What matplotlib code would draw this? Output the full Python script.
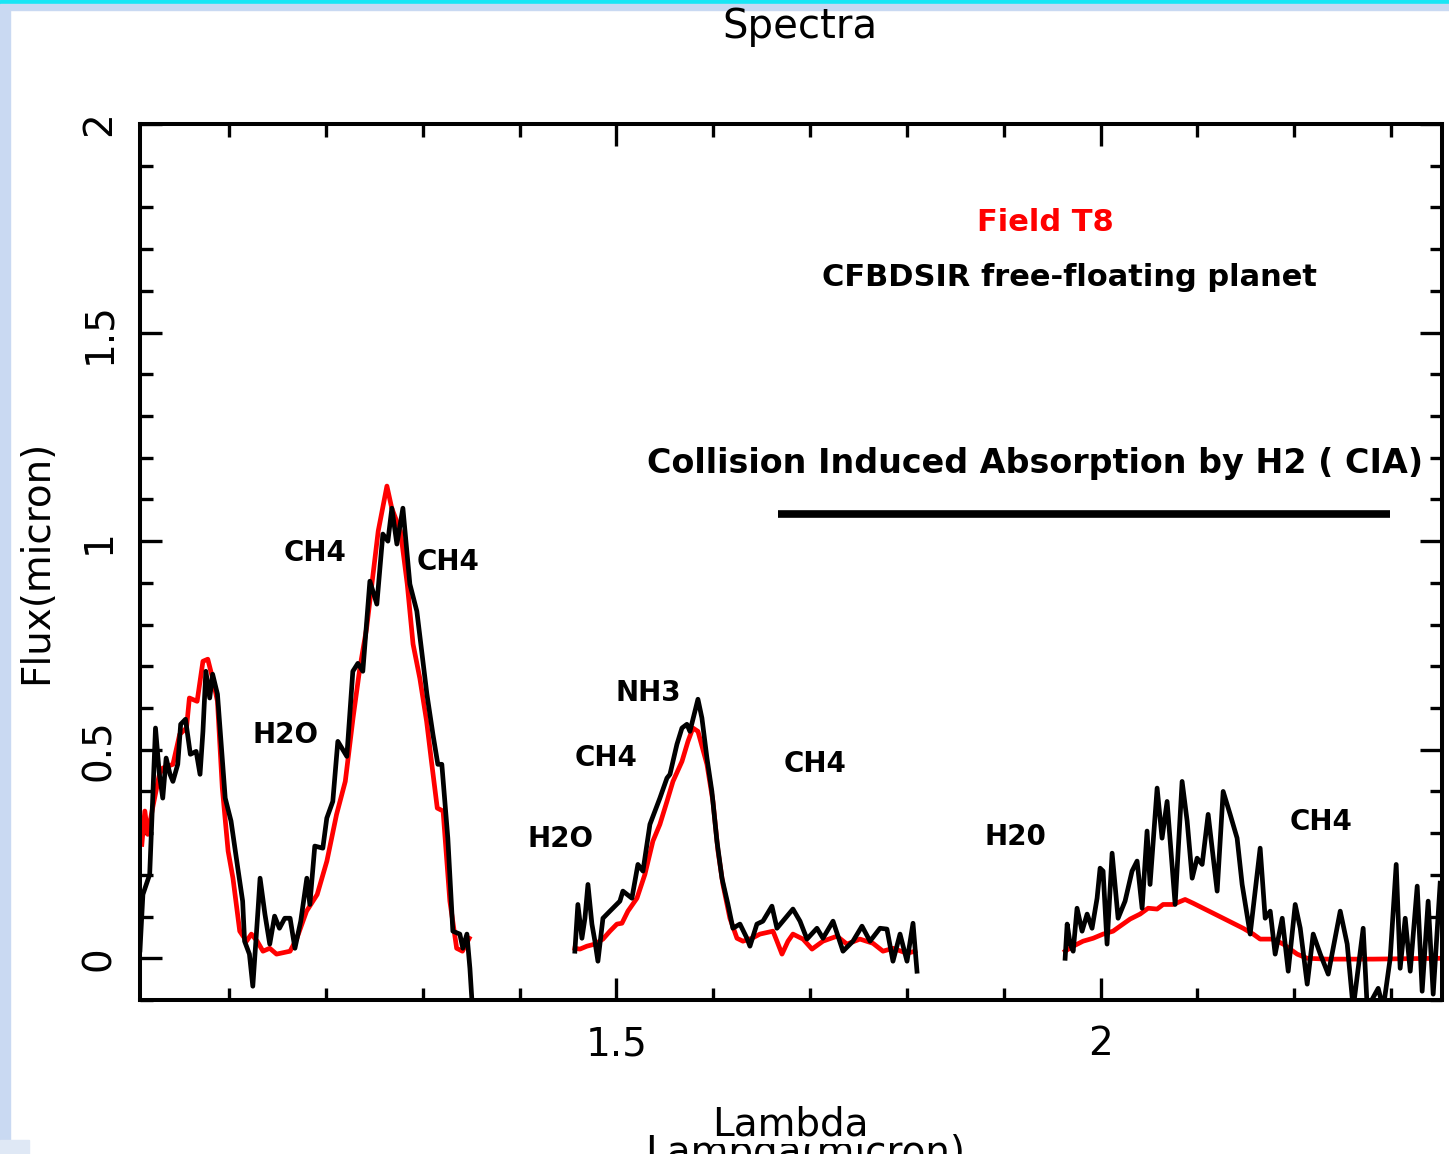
import numpy as np
import matplotlib
matplotlib.use("Agg")
import matplotlib.pyplot as plt
from matplotlib.ticker import MultipleLocator
from matplotlib.patches import Rectangle

# CFBDSIR spectrum (black), three bands
obj_J_x = [1.008, 1.011, 1.018, 1.021, 1.024, 1.028, 1.0315, 1.035, 1.039, 1.042, 1.047, 1.050,
           1.055, 1.060, 1.066, 1.070, 1.073, 1.076, 1.080, 1.083, 1.088, 1.096, 1.102, 1.109,
           1.114, 1.116, 1.121, 1.1245, 1.130, 1.132, 1.137, 1.142, 1.147, 1.152, 1.1575, 1.163,
           1.168, 1.174, 1.1803, 1.1834, 1.1885, 1.1968, 1.2009, 1.2071, 1.2123, 1.2216, 1.2278,
           1.2330, 1.2381, 1.2454, 1.2526, 1.2588, 1.2640, 1.2681, 1.2733, 1.2795, 1.2867, 1.2939,
           1.3043, 1.3105, 1.3156, 1.3197, 1.3259, 1.3311, 1.3383, 1.3414, 1.3456, 1.3487, 1.3507]
obj_J_y = [0.02, 0.153, 0.201, 0.376, 0.552, 0.441, 0.384, 0.480, 0.441, 0.424, 0.465, 0.561,
           0.573, 0.489, 0.496, 0.441, 0.544, 0.688, 0.624, 0.681, 0.633, 0.384, 0.329, 0.216,
           0.137, 0.041, 0.010, -0.067, 0.120, 0.192, 0.106, 0.034, 0.101, 0.072, 0.096, 0.096,
           0.024, 0.089, 0.192, 0.129, 0.269, 0.264, 0.336, 0.376, 0.520, 0.484, 0.688,
           0.707, 0.688, 0.904, 0.849, 1.017, 1.000, 1.079, 0.993, 1.079, 0.897, 0.832,
           0.633, 0.537, 0.465, 0.465, 0.288, 0.065, 0.058, 0.024, 0.058, -0.024, -0.098]

obj_H_x = [1.4571, 1.4602, 1.4644, 1.4675, 1.4706, 1.4747, 1.4778, 1.4809, 1.4861, 1.4933,
           1.5036, 1.5067, 1.5160, 1.5222, 1.5274, 1.5346, 1.5449, 1.5522, 1.5553, 1.5625,
           1.5677, 1.5728, 1.5759, 1.5811, 1.5842, 1.5883, 1.5935, 1.5986, 1.6038, 1.6090,
           1.6152, 1.6203, 1.6276, 1.6348, 1.6379, 1.6451, 1.6513, 1.6606, 1.6658, 1.6823,
           1.6896, 1.6968, 1.7071, 1.7133, 1.7237, 1.7340, 1.7443, 1.7536, 1.7619, 1.7722,
           1.7794, 1.7856, 1.7929, 1.8001, 1.8063, 1.8104]
obj_H_y = [0.017, 0.129, 0.048, 0.096, 0.177, 0.082, 0.041, -0.007, 0.096, 0.113,
           0.137, 0.161, 0.144, 0.225, 0.209, 0.321, 0.384, 0.432, 0.441, 0.513,
           0.552, 0.561, 0.544, 0.592, 0.621, 0.576, 0.480, 0.400, 0.281, 0.192,
           0.129, 0.072, 0.082, 0.048, 0.029, 0.082, 0.089, 0.125, 0.072, 0.118,
           0.089, 0.046, 0.072, 0.048, 0.089, 0.017, 0.041, 0.077, 0.041, 0.072,
           0.070, -0.007, 0.058, -0.007, 0.084, -0.031]

obj_K_x = [1.9634, 1.9655, 1.9686, 1.9717, 1.9757, 1.9809, 1.9861, 1.9912, 1.9964, 1.9995,
           2.0026, 2.0067, 2.0119, 2.0181, 2.0253, 2.0325, 2.0377, 2.0429, 2.0480, 2.0511,
           2.0584, 2.0635, 2.0687, 2.0770, 2.0842, 2.0894, 2.0946, 2.0997, 2.1049, 2.1111,
           2.1204, 2.1266, 2.1338, 2.1410, 2.1462, 2.1545, 2.1576, 2.1648, 2.1700, 2.1752,
           2.1803, 2.1876, 2.1938, 2.2010, 2.2062, 2.2134, 2.2196, 2.2269, 2.2351, 2.2475,
           2.2547, 2.2609, 2.2712, 2.2754, 2.2867, 2.2919, 2.2991, 2.3053, 2.3094, 2.3146,
           2.3198, 2.3270, 2.3321, 2.3383, 2.3435, 2.3507]
obj_K_y = [0.000, 0.082, 0.034, 0.017, 0.120, 0.065, 0.106, 0.072, 0.144, 0.216,
           0.209, 0.034, 0.252, 0.096, 0.137, 0.209, 0.233, 0.120, 0.305, 0.177,
           0.408, 0.288, 0.376, 0.129, 0.424, 0.329, 0.192, 0.240, 0.225, 0.345,
           0.161, 0.400, 0.345, 0.288, 0.177, 0.058, 0.120, 0.264, 0.096, 0.113,
           0.010, 0.096, -0.031, 0.129, 0.072, -0.062, 0.058, 0.010, -0.038, 0.113,
           0.034, -0.12, 0.072, -0.12, -0.072, -0.12, 0.000, 0.225, -0.024, 0.096,
           -0.031, 0.173, -0.079, 0.137, -0.086, 0.180]

# Field T8 template (red)
t8_J_x = [1.0099, 1.013, 1.016, 1.021, 1.028, 1.0315, 1.042, 1.049, 1.056, 1.059, 1.067,
          1.073, 1.078, 1.083, 1.088, 1.093, 1.099, 1.104, 1.111, 1.118, 1.123, 1.129, 1.135,
          1.142, 1.149, 1.163, 1.170, 1.180, 1.191, 1.201, 1.211, 1.220, 1.228, 1.235, 1.242,
          1.254, 1.263, 1.268, 1.277, 1.284, 1.290, 1.297, 1.304, 1.309, 1.315, 1.321, 1.328,
          1.335, 1.341, 1.348]
t8_J_y = [0.273, 0.353, 0.297, 0.360, 0.441, 0.456, 0.465, 0.537, 0.552, 0.624, 0.616,
          0.712, 0.717, 0.671, 0.616, 0.408, 0.257, 0.192, 0.065, 0.041, 0.058, 0.041, 0.017,
          0.024, 0.010, 0.017, 0.048, 0.113, 0.153, 0.233, 0.345, 0.424, 0.576, 0.695, 0.791,
          1.024, 1.132, 1.079, 1.024, 0.897, 0.753, 0.671, 0.568, 0.472, 0.360, 0.353, 0.137,
          0.024, 0.017, 0.048]

t8_H_x = [1.4571, 1.4623, 1.4695, 1.4778, 1.4861, 1.4933, 1.5005, 1.5057, 1.5119, 1.5212,
          1.5294, 1.5377, 1.5449, 1.5522, 1.5584, 1.5677, 1.5739, 1.5790, 1.5842, 1.5935,
          1.5997, 1.6049, 1.6100, 1.6172, 1.6245, 1.6307, 1.6400, 1.6482, 1.6617, 1.6658,
          1.6710, 1.6772, 1.6823, 1.6927, 1.7020, 1.7133, 1.7278, 1.7381, 1.7515, 1.7649,
          1.7753, 1.7856, 1.8001, 1.8084]
t8_H_y = [0.024, 0.022, 0.029, 0.034, 0.046, 0.065, 0.082, 0.084, 0.113, 0.144,
          0.201, 0.281, 0.321, 0.376, 0.424, 0.472, 0.520, 0.552, 0.544, 0.465,
          0.376, 0.257, 0.177, 0.096, 0.048, 0.041, 0.048, 0.058, 0.065, 0.041,
          0.010, 0.041, 0.058, 0.046, 0.022, 0.041, 0.053, 0.034, 0.046, 0.036,
          0.017, 0.024, 0.012, 0.017]

t8_K_x = [1.9634, 1.9717, 1.9819, 1.9923, 2.0026, 2.0129, 2.0201, 2.0305, 2.0408, 2.0491,
          2.0584, 2.0646, 2.0749, 2.0873, 2.0956, 2.1059, 2.1163, 2.1266, 2.1369, 2.1472,
          2.1576, 2.1648, 2.1782, 2.1886, 2.2030, 2.2134, 2.2340, 2.2815, 2.3507]
t8_K_y = [0.017, 0.029, 0.041, 0.048, 0.058, 0.065, 0.077, 0.094, 0.106, 0.120,
          0.118, 0.129, 0.129, 0.141, 0.132, 0.120, 0.108, 0.096, 0.084, 0.072,
          0.058, 0.046, 0.046, 0.034, 0.010, 0.000, -0.002, -0.002, 0.000]

# molecule labels
mol_names = ["CH4", "CH4", "H2O", "NH3", "CH4", "CH4", "H2O", "H20", "CH4"]
mol_x = [1.1885, 1.326, 1.1586, 1.5325, 1.489, 1.705, 1.4427, 1.9116, 2.2278]
mol_y = [0.971, 0.950, 0.535, 0.635, 0.480, 0.465, 0.285, 0.290, 0.326]

cia_band = [1.667, 2.299]
cia_level = 1.065

yticks = [0, 0.5, 1, 1.5, 2]
ytick_labels = ["0", "0.5", "1", "1.5", "2"]
xticks = [1.5, 2.0]
xtick_labels = ["1.5", "2"]

fig = plt.figure(figsize=(14.49, 11.54), dpi=100)

# slide decoration
fig.patches.append(Rectangle((0, 0.9965), 1, 0.0035, transform=fig.transFigure, color="#19e6f5", zorder=0))
fig.patches.append(Rectangle((0, 0.991), 1, 0.0055, transform=fig.transFigure, color="#c9d9f2", zorder=0))
fig.patches.append(Rectangle((0, 0), 0.007, 0.991, transform=fig.transFigure, color="#c9d9f2", zorder=0))
fig.patches.append(Rectangle((0, 0), 0.02, 0.012, transform=fig.transFigure, color="#dfe8f5", zorder=0))

ax = fig.add_axes([140 / 1449, 1 - 1000 / 1154, 1302 / 1449, 876 / 1154])

lw = 3.4
ax.plot(t8_J_x, t8_J_y, color="red", lw=lw)
ax.plot(t8_H_x, t8_H_y, color="red", lw=lw)
ax.plot(t8_K_x, t8_K_y, color="red", lw=lw)
ax.plot(obj_J_x, obj_J_y, color="black", lw=lw)
ax.plot(obj_H_x, obj_H_y, color="black", lw=lw)
ax.plot(obj_K_x, obj_K_y, color="black", lw=lw)

ax.plot(cia_band, [cia_level, cia_level], color="black", lw=5.5, solid_capstyle="butt")

for name, xx, yy in zip(mol_names, mol_x, mol_y):
    ax.text(xx, yy, name, fontsize=20, fontweight="bold", ha="center", va="center")

ax.text(1.9426, 1.763, "Field T8", color="red", fontsize=22, fontweight="bold", ha="center", va="center")
ax.text(1.968, 1.633, "CFBDSIR free-floating planet", fontsize=22, fontweight="bold", ha="center", va="center")
ax.text(1.932, 1.187, "Collision Induced Absorption by H2 ( CIA)", fontsize=24, fontweight="bold",
        ha="center", va="center")

ax.set_xlim(1.008, 2.3526)
ax.set_ylim(-0.1, 2.0)
ax.set_xticks(xticks)
ax.set_xticklabels(xtick_labels)
ax.set_yticks(yticks)
ax.set_yticklabels(ytick_labels)
ax.xaxis.set_minor_locator(MultipleLocator(0.1))
ax.yaxis.set_minor_locator(MultipleLocator(0.1))
ax.tick_params(which="both", direction="in", top=True, right=True, width=2.4)
ax.tick_params(which="major", length=16)
ax.tick_params(which="minor", length=9)
ax.tick_params(axis="x", labelsize=28, pad=18)
ax.tick_params(axis="y", labelsize=28, pad=16, labelrotation=90)
for lab in ax.get_yticklabels():
    lab.set_va("center")
for sp in ax.spines.values():
    sp.set_linewidth(2.9)

fig.text(800 / 1449, 1 - 27 / 1154, "Spectra", fontsize=29, ha="center", va="center")
fig.text(36 / 1449, 1 - 562 / 1154, "Flux(micron)", fontsize=28, rotation=90, ha="center", va="center")
fig.text(805 / 1449, 1 - 1134 / 1154, "Lambda(micron)", fontsize=28, ha="center", va="top")
fig.text(790 / 1449, 1 - 1125 / 1154, "Lambda", fontsize=28, ha="center", va="center",
         bbox=dict(facecolor="white", edgecolor="none", pad=0))

fig.savefig("out.png", dpi=100)
